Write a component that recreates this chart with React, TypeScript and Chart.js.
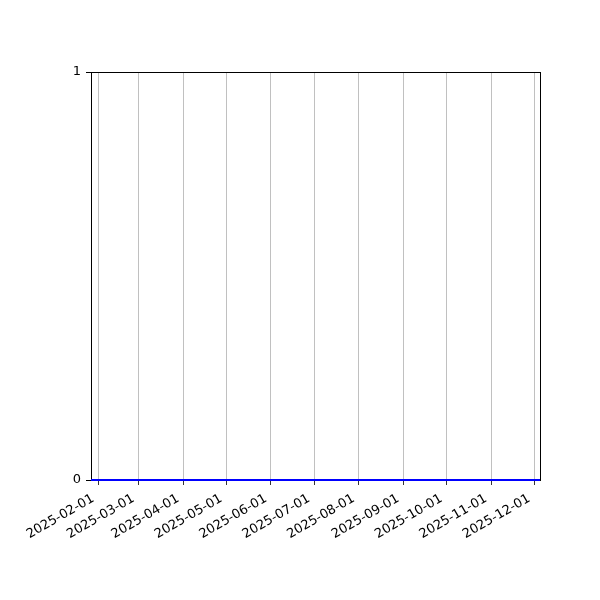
import React, { useEffect, useRef } from "react";
import { Chart, registerables } from "chart.js";

Chart.register(...registerables);

const dates = ["2025-01-27", "2025-12-05"];
const values = [0, 0];
const monthTicks = [
  "2025-02-01", "2025-03-01", "2025-04-01", "2025-05-01", "2025-06-01",
  "2025-07-01", "2025-08-01", "2025-09-01", "2025-10-01", "2025-11-01", "2025-12-01",
];
const yTicks = [0, 1];

const ts = (s: string) => Date.parse(s + "T00:00:00Z");

const boxPlugin = {
  id: "box",
  beforeDatasetsDraw(chart: any) {
    const { ctx, chartArea: a } = chart;
    ctx.save();
    ctx.strokeStyle = "#000";
    ctx.lineWidth = 1;
    ctx.strokeRect(Math.round(a.left) + 0.5, Math.round(a.top) + 0.5, Math.round(a.right - a.left), Math.round(a.bottom - a.top));
    ctx.restore();
  },
};

export default function App() {
  const ref = useRef<HTMLCanvasElement>(null);
  useEffect(() => {
    document.body.style.margin = "0";
    const font = { family: "DejaVu Sans", size: 13 };
    const chart = new Chart(ref.current!, {
      type: "line",
      data: {
        datasets: [
          {
            data: dates.map((d, i) => ({ x: ts(d), y: values[i] })),
            borderColor: "#0000ff",
            borderWidth: 2,
            pointRadius: 0,
            clip: false as any,
          },
        ],
      },
      options: {
        animation: false,
        responsive: false,
        layout: { padding: { top: 72, right: 60, left: 0, bottom: 0 } },
        plugins: { legend: { display: false }, tooltip: { enabled: false } },
        scales: {
          x: {
            type: "linear",
            min: ts(dates[0]),
            max: ts(dates[dates.length - 1]),
            afterBuildTicks: (scale: any) => {
              scale.ticks = monthTicks.map((m) => ({ value: ts(m) }));
            },
            afterFit: (scale: any) => {
              scale.height = 120;
            },
            grid: {
              color: "#b0b0b0",
              lineWidth: 0.8,
              tickColor: "#000",
              tickLength: 5,
              drawTicks: true,
            },
            border: { display: false },
            ticks: {
              autoSkip: false,
              minRotation: 30,
              maxRotation: 30,
              padding: 6,
              labelOffset: -5,
              color: "#000",
              font,
              callback: (v: any) => new Date(Number(v)).toISOString().slice(0, 10),
            },
          },
          y: {
            min: 0,
            max: 1,
            afterBuildTicks: (scale: any) => {
              scale.ticks = yTicks.map((v) => ({ value: v }));
            },
            afterFit: (scale: any) => {
              scale.width = 91;
            },
            grid: {
              drawOnChartArea: false,
              tickColor: "#000",
              tickLength: 5,
            },
            border: { display: false },
            ticks: {
              padding: 5,
              color: "#000",
              font,
              callback: (v: any) => String(v),
            },
          },
        },
      },
      plugins: [boxPlugin],
    });
    return () => chart.destroy();
  }, []);
  return <canvas ref={ref} width={600} height={600} style={{ display: "block" }} />;
}
